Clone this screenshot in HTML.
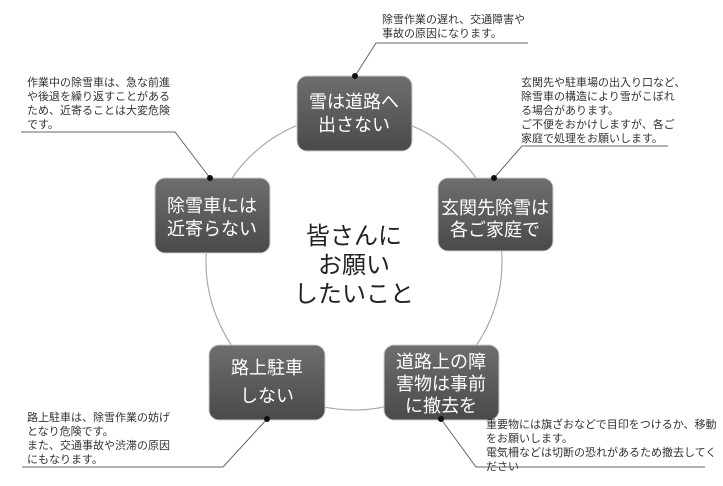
<!DOCTYPE html>
<html><head><meta charset="utf-8"><style>
body{margin:0;background:#fff;}
svg{display:block;font-family:"Liberation Sans","Noto Sans CJK JP",sans-serif;}
.t{font-size:11px;fill:#333;}
.b{font-size:18px;fill:#fff;text-anchor:middle;}
</style></head><body>
<svg width="723" height="486" viewBox="0 0 723 486" xmlns="http://www.w3.org/2000/svg">
<defs><linearGradient id="g" x1="0" y1="0" x2="0" y2="1"><stop offset="0" stop-color="#6e6e6e"/><stop offset="1" stop-color="#4a4a4a"/></linearGradient></defs>
<circle cx="354" cy="262" r="148" fill="none" stroke="#aaa" stroke-width="1.2"/>
<g fill="url(#g)" stroke="#ccc" stroke-width="1">
<rect x="297" y="76" width="115" height="75" rx="10"/>
<rect x="438" y="178" width="115" height="73" rx="10"/>
<rect x="155" y="178" width="115" height="75" rx="10"/>
<rect x="209" y="345" width="116" height="75" rx="10"/>
<rect x="384" y="345" width="115" height="75" rx="10"/>
</g>
<g class="b">
<text x="354" y="108">雪は道路へ</text><text x="354" y="131">出さない</text>
<text x="495" y="214">玄関先除雪は</text><text x="495" y="236">各ご家庭で</text>
<text x="212" y="212">除雪車には</text><text x="212" y="235">近寄らない</text>
<text x="267" y="374">路上駐車</text><text x="267" y="402">しない</text>
<text x="441" y="368">道路上の障</text><text x="441" y="390">害物は事前</text><text x="441" y="412">に撤去を</text>
</g>
<g font-size="24" fill="#222" text-anchor="middle">
<text x="354" y="244">皆さんに</text><text x="354" y="273">お願い</text><text x="354" y="302">したいこと</text>
</g>
<g stroke="#666" stroke-width="1" fill="none">
<polyline points="355,76 376,43 528,43"/>
<polyline points="494,178 522,146 668,146"/>
<polyline points="210,178 175,132 21,132"/>
<polyline points="267,419 223,467 22,467"/>
<polyline points="441,419 476,467 705,467"/>
</g>
<g fill="#111">
<circle cx="355" cy="76" r="3"/><circle cx="494" cy="178" r="3"/><circle cx="210" cy="178" r="3"/><circle cx="267" cy="419" r="3"/><circle cx="441" cy="419" r="3"/>
</g>
<g class="t">
<text x="382" y="23">除雪作業の遅れ、交通障害や</text><text x="382" y="37">事故の原因になります。</text>
<text x="521" y="86">玄関先や駐車場の出入り口など、</text><text x="521" y="100">除雪車の構造により雪がこぼれ</text><text x="521" y="114">る場合があります。</text><text x="521" y="128">ご不便をおかけしますが、各ご</text><text x="521" y="142">家庭で処理をお願いします。</text>
<text x="27" y="86">作業中の除雪車は、急な前進</text><text x="27" y="100">や後退を繰り返すことがある</text><text x="27" y="114">ため、近寄ることは大変危険</text><text x="27" y="128">です。</text>
<text x="27" y="421">路上駐車は、除雪作業の妨げ</text><text x="27" y="435">となり危険です。</text><text x="27" y="449">また、交通事故や渋滞の原因</text><text x="27" y="463">にもなります。</text>
<text x="486" y="428">重要物には旗ざおなどで目印をつけるか、移動</text><text x="486" y="442">をお願いします。</text><text x="486" y="456">電気柵などは切断の恐れがあるため撤去してく</text><text x="486" y="470">ださい</text>
</g>
</svg>
</body></html>
